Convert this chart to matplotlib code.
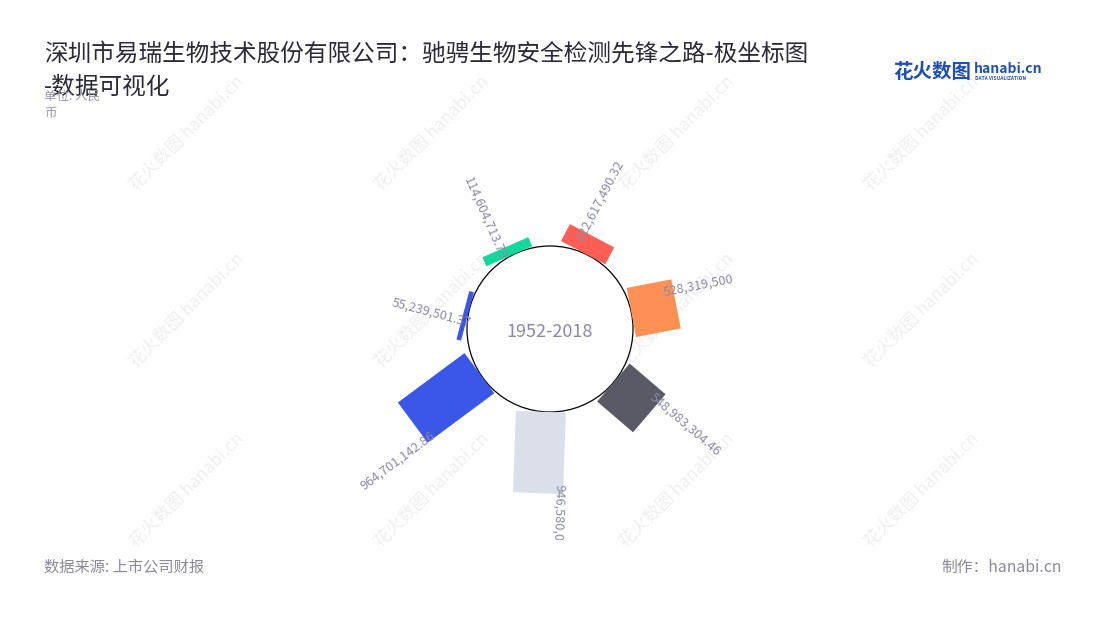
import numpy as np
import matplotlib
matplotlib.use("Agg")
import matplotlib.pyplot as plt
from matplotlib.patches import Circle
from matplotlib.transforms import Affine2D

plt.rcParams['font.family'] = ['Noto Sans CJK SC', 'DejaVu Sans']

# data, clockwise from the top
values = [222617490.32, 528319500.0, 548983304.46, 946580095.0,
          964701142.86, 55239501.37, 114604713.79]
colors = ['#FF5E57', '#FF9055', '#5A5A66', '#DBDFEA',
          '#3A57E8', '#3A57E8', '#12D99B']
center_label = '1952-2018'
title_1 = '深圳市易瑞生物技术股份有限公司：驰骋生物安全检测先锋之路-极坐标图'
title_2 = '-数据可视化'
unit_1 = '单位: 人民'
unit_2 = '币'
source = '数据来源: 上市公司财报'
maker = '制作：hanabi.cn'

W, H = 1100, 620
fig = plt.figure(figsize=(W / 100, H / 100), dpi=100)
fig.patch.set_facecolor('white')

# watermarks (faint, below everything)
for wy in [133, 310, 490]:
    for wx in [187, 432, 677, 922]:
        fig.text(wx / W, 1 - wy / H, '花火数图 hanabi.cn', rotation=45,
                 rotation_mode='anchor', ha='center', va='center',
                 fontsize=12.5, color='#efeff1', zorder=-1)

# chart axes, 1 data unit = 1 px, centre of circle at (550, 329)
cx, cy = 550, 329
top_px, bot_px = 130, 540
ax = fig.add_axes([0, (H - bot_px) / H, 1, (bot_px - top_px) / H])
ax.set_xlim(-cx, W - cx)
ax.set_ylim(-(bot_px - cy), cy - top_px)
ax.axis('off')
ax.patch.set_alpha(0)

r0 = 83
bar_w = 50
scale = r0 / max(values)
n = len(values)
angles = [(i + 0.5) * 360 / n + 2 for i in range(n)]

ax.add_patch(Circle((0, 0), r0, facecolor='white', edgecolor='black',
                    lw=0.9, zorder=2))

for v, c, th in zip(values, colors, angles):
    length = v * scale
    shift = -10 + 0.2 * length   # small tangential drift seen in the original
    tr = Affine2D().rotate_deg(-th) + ax.transData
    ax.bar(shift, length, width=bar_w, bottom=r0, color=c, transform=tr,
           zorder=3, linewidth=0)

    # label near the outer end, radial orientation
    if v == int(v):
        txt = f'{v:,.0f}'
    else:
        txt = f'{v:,.2f}'
    rl = r0 + length - 10
    t = np.radians(th)
    # offset 15 px counter-clockwise of the radial line
    lx = rl * np.sin(t) - 15 * np.cos(t)
    ly = rl * np.cos(t) + 15 * np.sin(t)
    if th <= 190:
        rot, ha = 90 - th, 'left'
    else:
        rot, ha = 270 - th, 'right'
    ax.text(lx, ly, txt, rotation=rot, rotation_mode='anchor', ha=ha,
            va='center', fontsize=9.2, color='#8a8aa3', zorder=4,
            clip_on=True)

ax.text(0, -3, center_label, ha='center', va='center', fontsize=13,
        color='#8a8aa3', zorder=4)

# titles
fig.text(44 / W, 1 - 54 / H, title_1, ha='left', va='center',
         fontsize=17, color='#2b2b38')
fig.text(44 / W, 1 - 87 / H, title_2, ha='left', va='center',
         fontsize=17, color='#2b2b38')
fig.text(44 / W, 1 - 96 / H, unit_1, ha='left', va='center',
         fontsize=9, color='#9a9aa8')
fig.text(44 / W, 1 - 113 / H, unit_2, ha='left', va='center',
         fontsize=9, color='#9a9aa8')

# logo
fig.text(893 / W, 1 - 72 / H, '花火数图', ha='left', va='center',
         fontsize=14, color='#1f4fb5', fontweight='bold')
fig.text(974 / W, 1 - 69 / H, 'hanabi.cn', ha='left', va='center',
         fontsize=10, color='#1f4fb5', fontweight='bold')
fig.text(975 / W, 1 - 79 / H, 'DATA VISUALIZATION', ha='left', va='center',
         fontsize=3.5, color='#1f4fb5', fontweight='bold')

# footer
fig.text(44 / W, 1 - 567 / H, source, ha='left', va='center',
         fontsize=11, color='#8a8a96')
fig.text(1062 / W, 1 - 567 / H, maker, ha='right', va='center',
         fontsize=11.3, color='#8a8a96')

fig.savefig('out.png', dpi=100, facecolor='white')
